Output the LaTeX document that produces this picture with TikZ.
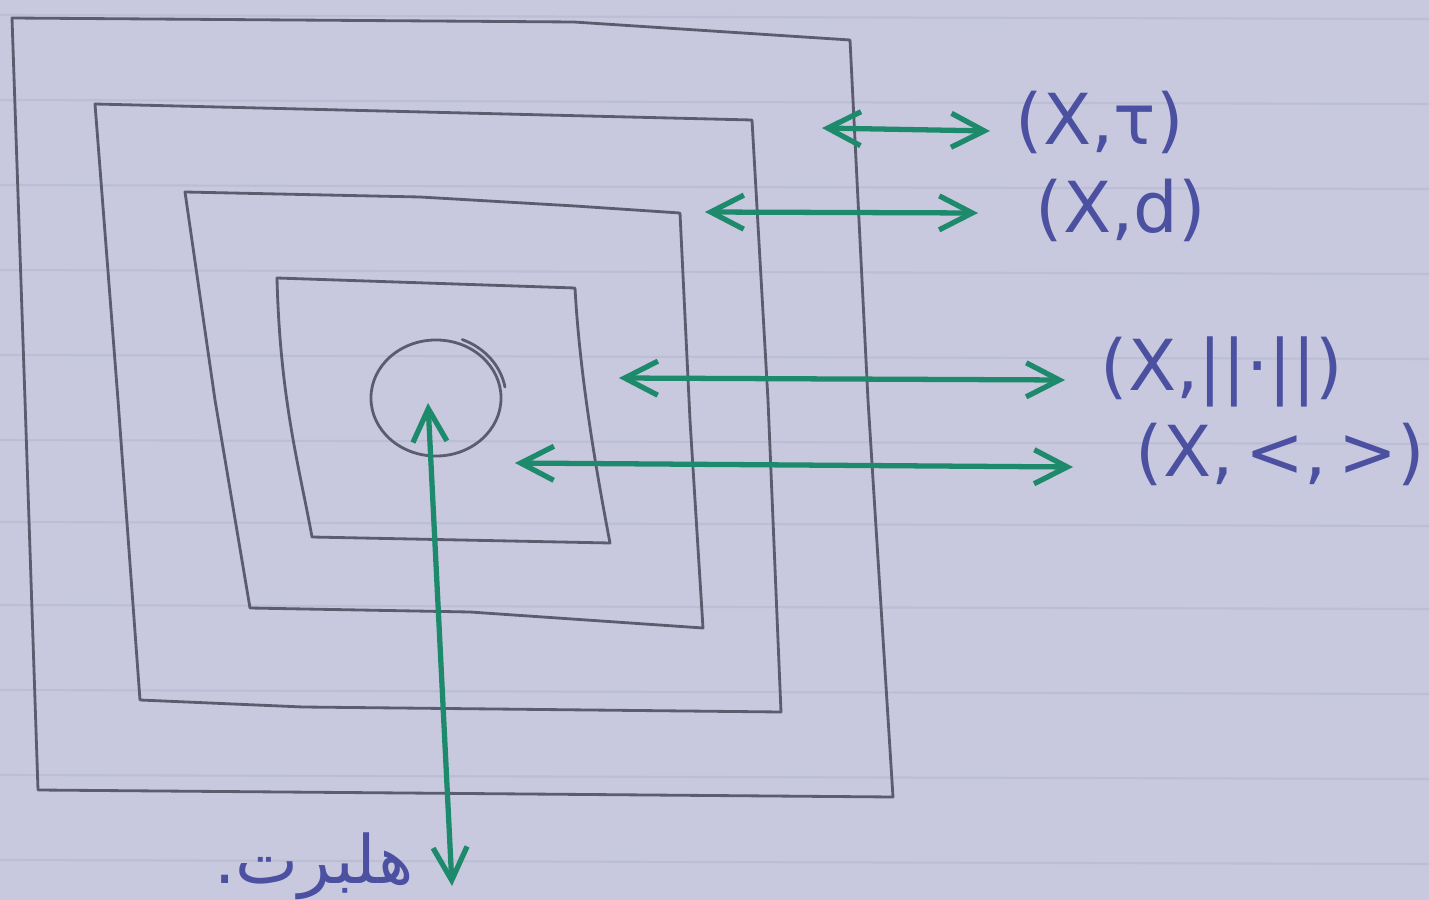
\documentclass[tikz,border=0pt]{standalone}
\usepackage{fontspec}
\usetikzlibrary{arrows.meta}
\newfontfamily\labfont{DejaVu Sans}
\newfontfamily\arabicfont[Script=Arabic]{DejaVu Sans}
\TeXXeTstate=1
\definecolor{paper}{HTML}{C8C9DF}
\definecolor{ruling}{HTML}{BCBED5}
\definecolor{pencil}{HTML}{5B5C6E}
\definecolor{marker}{HTML}{1E8A6C}
\definecolor{ink}{HTML}{4C50A0}
\tikzset{
  box/.style={draw=pencil, line width=0.8pt, line join=round, line cap=round},
  barb/.tip={Straight Barb[length=3.3mm, width=3.4mm]},
  link/.style={draw=marker, line width=1.5pt, barb-barb},
  lab/.style={text=ink, font=\labfont\fontsize{20}{24}\selectfont, inner sep=0pt, anchor=west},
  ruleline/.style={draw=ruling, line width=0.6pt},
}
\begin{document}
\begin{tikzpicture}[x=0.01cm, y=-0.01cm]
\fill[paper] (0,0) rectangle (1429,900);
\useasboundingbox (0,0) rectangle (1429,900);
% ruled lines of the paper
\foreach \yy in {15,100,185,270,355,440,522,605,690,775,860}
  \draw[ruleline] (0,\yy) -- (1429,\yy+4);

% nested hand-drawn boxes
\draw[box] (12,18) -- (574,22) -- (850,40) -- (868,400) -- (893,797) -- (38,790) -- (25,400) -- cycle;
\draw[box] (95,104) -- (752,120) -- (768,400) -- (781,712) -- (303,707) -- (140,700) -- (118,400) -- cycle;
\draw[box] (185,192) -- (420,197) -- (575,206) -- (680,213) -- (690,420) -- (703,628) -- (470,612) -- (250,608) -- (215,400) -- cycle;
\draw[box] (277,278) -- (575,288) .. controls (580,380) and (598,480) .. (610,543) -- (312,537) .. controls (300,470) and (280,400) .. cycle;

% circle
\coordinate (c) at (436,398);
\draw[box] (c) ellipse [x radius=0.65cm, y radius=0.58cm];
\draw[box] (c) ++(68:0.7cm and 0.63cm) arc[start angle=68, end angle=10, x radius=0.7cm, y radius=0.63cm];

% labels
\node[lab] (tau) at (1015,122) {(X,τ)};
\node[lab] (met) at (1035,210) {(X,d)};
\node[lab] (nrm) at (1100,372) {(X,||·||)};
\node[lab] (inn) at (1135,454) {(X,\,<,\,>)};
\node[text=ink, inner sep=0pt, font=\arabicfont\fontsize{19}{23}\selectfont] (hil) at (314,866) {\beginR هلبرت.\endR};

% arrow end points
\coordinate (a1l) at (822,128);  \coordinate (a1r) at (990,131);
\coordinate (a2l) at (705,212);  \coordinate (a2r) at (978,213);
\coordinate (a3l) at (619,378);  \coordinate (a3r) at (1065,380);
\coordinate (a4l) at (515,463);  \coordinate (a4r) at (1073,467);
\coordinate (h1) at (428,403);   \coordinate (h2) at (452,886);

\draw[link] (a1l) -- (a1r);
\draw[link] (a2l) -- (a2r);
\draw[link] (a3l) -- (a3r);
\draw[link] (a4l) -- (a4r);
\draw[link] (h1) -- (h2);
\end{tikzpicture}
\end{document}
